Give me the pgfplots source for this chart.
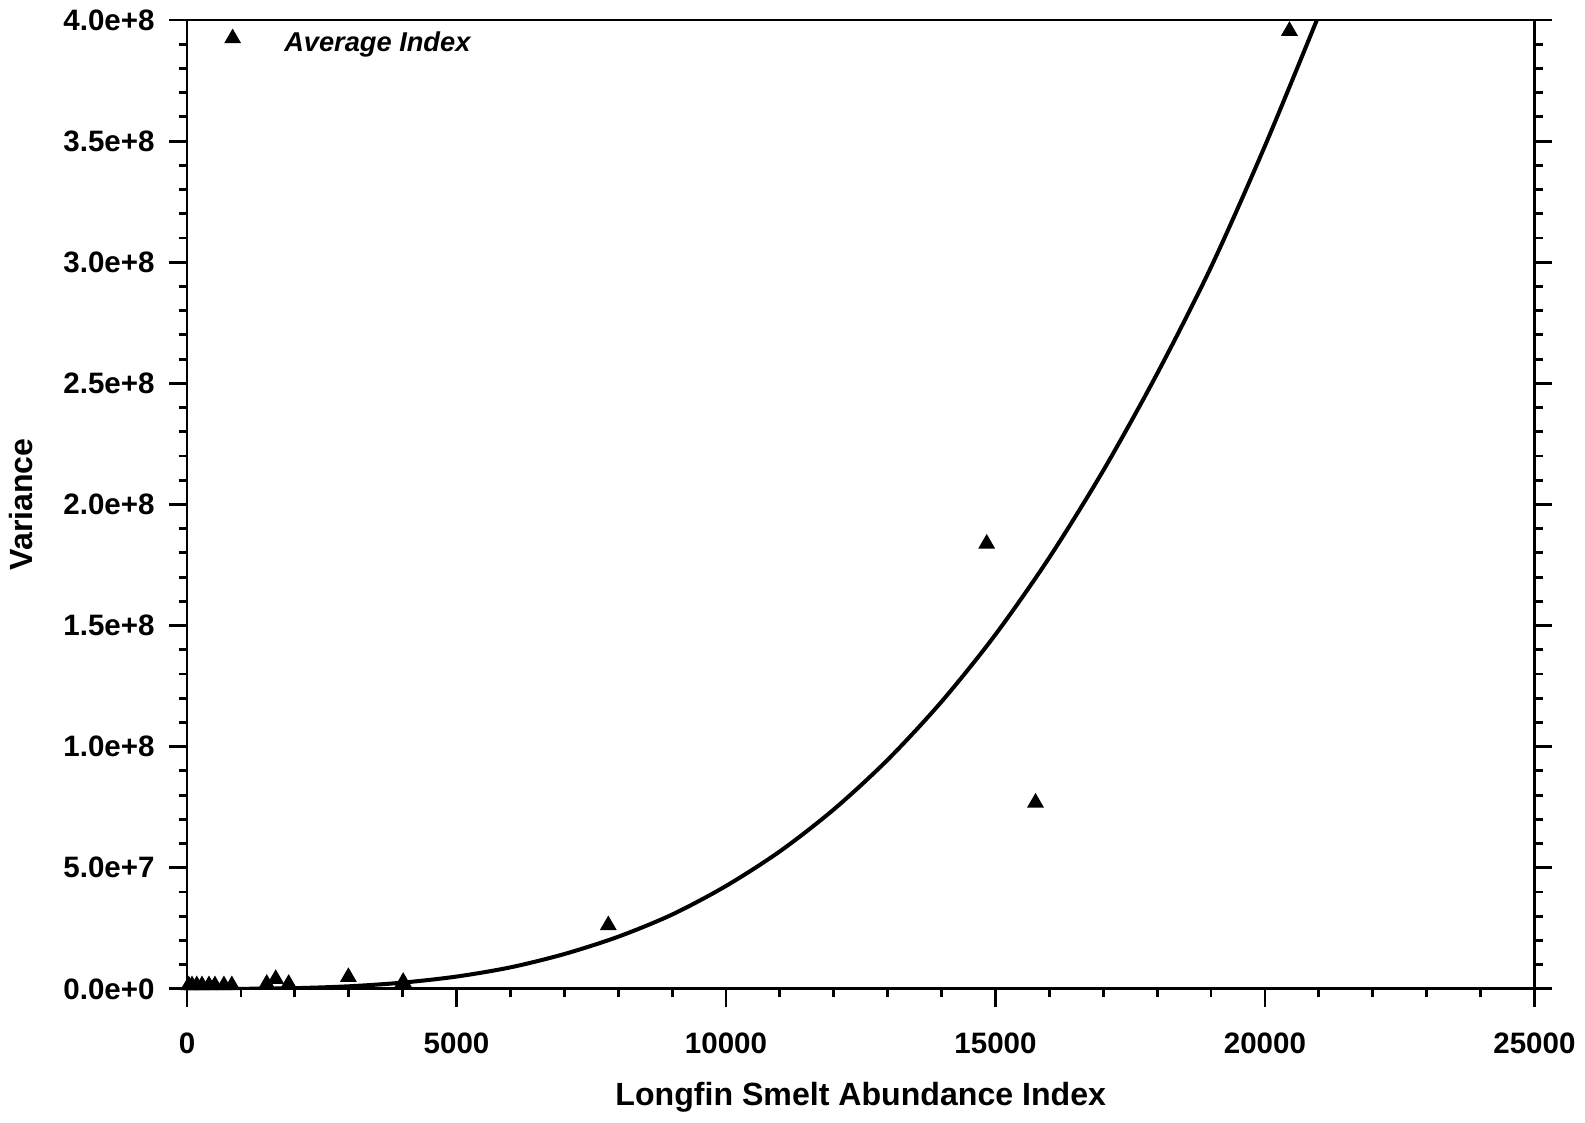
\documentclass[border=0pt]{standalone}
\usepackage{fontspec}
\setmainfont{Liberation Sans}
\usepackage{pgfplots}
\pgfplotsset{compat=1.18}
\begin{document}
\begin{tikzpicture}
\begin{axis}[
  scale only axis,
  width=470pt, height=338pt,
  xmin=0, xmax=25000, ymin=0, ymax=4e8,
  xtick={0,5000,...,25000},
  ytick={0,5e7,1e8,1.5e8,2e8,2.5e8,3e8,3.5e8,4e8},
  yticklabels={0.0e+0,5.0e+7,1.0e+8,1.5e+8,2.0e+8,2.5e+8,3.0e+8,3.5e+8,4.0e+8},
  minor x tick num=4, minor y tick num=4,
  scaled x ticks=false, scaled y ticks=false,
  /pgf/number format/1000 sep={},
  /pgf/number format/assume math mode=true,
  tick align=outside,
  xtick pos=left, ytick pos=both,
  major tick length=6.3pt, minor tick length=2.9pt,
  tick style={line width=1pt, black},
  axis line style={line width=1pt},
  ticklabel style={font=\fontsize{10.3}{12}\selectfont\bfseries},
  xticklabel shift=5.6pt,
  yticklabel shift=1.5pt,
  xlabel={Longfin Smelt Abundance Index},
  ylabel={Variance},
  label style={font=\fontsize{11.2}{13}\selectfont\bfseries},
  xlabel style={at={(axis description cs:0.5,-0.112)}, anchor=center},
  ylabel style={at={(axis description cs:-0.123,0.5)}, anchor=center},
  legend style={draw=none, fill=none, at={(0.0215,1.0)}, anchor=north west,
    font=\fontsize{9.5}{11}\selectfont\bfseries\itshape},
  legend image code/.code={
    \draw[mark size=3pt, black] plot[mark=triangle*, only marks] coordinates {(0pt,2pt)};
    \path[draw=none] (0pt,0pt) -- (16pt,0pt);
  },
]
% observed variance vs average index
\addplot[only marks, mark=triangle*, mark size=3pt, black] coordinates {
  (30,1.5e6) (92,1.5e6) (180,1.5e6) (277,1.5e6) (406,1.5e6) (517,1.5e6)
  (684,1.5e6) (831,1.5e6)
  (1478,2.1e6) (1645,4.1e6) (1885,2.1e6)
  (2993,4.9e6) (4010,2.9e6)
  (7816,2.63e7) (14837,1.838e8) (15743,7.69e7) (20455,3.955e8)
};
\addlegendentry{Average Index}
% fitted curve
\addplot[smooth, line width=1.4pt, black, forget plot] coordinates {
  (0,0) (1000,0.04e6) (2000,0.31e6) (3000,1.08e6) (4000,2.6e6)
  (5000,5.1e6) (6000,8.9e6) (7000,1.44e7) (8000,2.155e7) (9000,3.07e7)
  (10000,4.25e7) (11000,5.68e7) (12000,7.41e7) (13000,9.46e7)
  (14000,1.186e8) (15000,1.463e8) (16000,1.781e8) (17000,2.14e8)
  (18000,2.54e8) (19000,2.98e8) (20000,3.48e8) (21000,4.02e8)
};
\end{axis}
\end{tikzpicture}
\end{document}
